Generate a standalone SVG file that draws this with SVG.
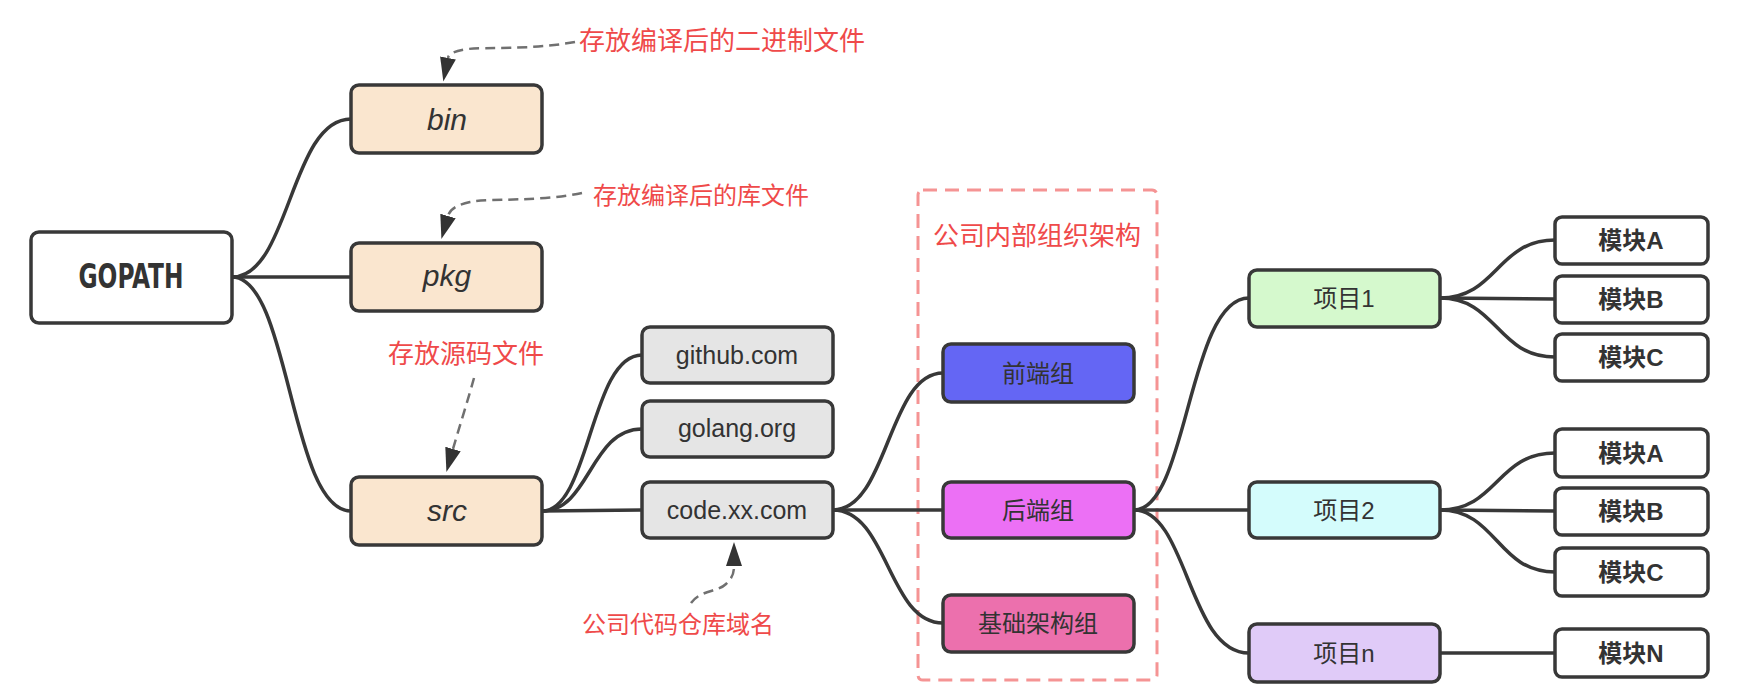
<svg xmlns="http://www.w3.org/2000/svg" width="1741" height="694" viewBox="0 0 1741 694">
<style>
.node rect{stroke:#383838;stroke-width:3.5}
.t{font-family:"Liberation Sans","Noto Sans CJK SC",sans-serif;font-size:24px;fill:#333;text-anchor:middle}
.lat{font-size:25px}
.it{font-style:italic;font-size:30px}
.mod{font-weight:bold}
.note{font-family:"Noto Sans CJK SC","Liberation Sans",sans-serif;fill:#ef4a4a}
.conn path{fill:none;stroke:#383838;stroke-width:3.5}
.dash{fill:none;stroke:#707070;stroke-width:2.5;stroke-dasharray:10 6}
</style>
<defs>
<marker id="ah" markerUnits="userSpaceOnUse" markerWidth="26" markerHeight="18" refX="0" refY="8" orient="auto">
<path d="M0,0 L24,8 L0,16 z" fill="#333"/>
</marker>
</defs>
<rect width="1741" height="694" fill="#fff"/>

<rect id="org-frame" x="918" y="190" width="239" height="490" rx="5" fill="none" stroke="#f59494" stroke-width="3" stroke-dasharray="14 8"/>

<g id="connectors" class="conn">
<path d="M232,277 C290,277 290,119 351,119"/>
<path d="M232,277 L351,277"/>
<path d="M232,277 C290,277 290,511 351,511"/>
<path d="M542,511 C590,511 590,355 642,355"/>
<path d="M542,511 C590,511 590,429 642,429"/>
<path d="M542,511 L642,510"/>
<path d="M833,510 C888,510 888,373 943,373"/>
<path d="M833,510 L943,510"/>
<path d="M833,510 C888,510 888,623 943,623"/>
<path d="M1134,510 C1188,510 1188,298 1249,298"/>
<path d="M1134,510 L1249,510"/>
<path d="M1134,510 C1188,510 1188,653 1249,653"/>
<path d="M1440,298 C1497,298 1497,240 1555,240"/>
<path d="M1440,298 L1555,299"/>
<path d="M1440,298 C1497,298 1497,357 1555,357"/>
<path d="M1440,510 C1497,510 1497,453 1555,453"/>
<path d="M1440,510 L1555,511"/>
<path d="M1440,510 C1497,510 1497,572 1555,572"/>
<path d="M1440,653 L1555,653"/>
</g>

<g id="annotations">
<path class="dash" d="M575,42 C530,50 485,47 468,49 C455,51 449,53 448,58" marker-end="url(#ah)"/>
<path class="dash" d="M582,193 C540,202 490,198 470,202 C457,205 450,209 448,216" marker-end="url(#ah)"/>
<path class="dash" d="M474,378 C468,400 459,428 453,449" marker-end="url(#ah)"/>
<path class="dash" d="M691,603 C700,590 718,592 726,584 C732,578 734,574 734,566" marker-end="url(#ah)"/>
<text class="note" x="579" y="50" font-size="26">存放编译后的二进制文件</text>
<text class="note" x="593" y="204" font-size="24">存放编译后的库文件</text>
<text class="note" x="388" y="363" font-size="26">存放源码文件</text>
<text class="note" x="933" y="245" font-size="26">公司内部组织架构</text>
<text class="note" x="582" y="633" font-size="24">公司代码仓库域名</text>
</g>

<g id="gopath" class="node"><rect x="31" y="232" width="201" height="91" rx="8" fill="#fff"/><text x="131" y="288" font-family="'DejaVu Sans Condensed','Liberation Sans',sans-serif" font-weight="bold" font-size="34" fill="#333" text-anchor="middle" textLength="105" lengthAdjust="spacingAndGlyphs">GOPATH</text></g>
<g id="bin" class="node"><rect x="351" y="85" width="191" height="68" rx="8" fill="#fae6cf"/><text class="t it" x="447" y="130">bin</text></g>
<g id="pkg" class="node"><rect x="351" y="243" width="191" height="68" rx="8" fill="#fae6cf"/><text class="t it" x="447" y="286">pkg</text></g>
<g id="src" class="node"><rect x="351" y="477" width="191" height="68" rx="8" fill="#fae6cf"/><text class="t it" x="447" y="521">src</text></g>
<g id="github" class="node"><rect x="642" y="327" width="191" height="56" rx="8" fill="#e5e5e5"/><text class="t lat" x="737" y="364">github.com</text></g>
<g id="golang" class="node"><rect x="642" y="401" width="191" height="56" rx="8" fill="#e5e5e5"/><text class="t lat" x="737" y="437">golang.org</text></g>
<g id="codexx" class="node"><rect x="642" y="482" width="191" height="56" rx="8" fill="#e5e5e5"/><text class="t lat" x="737" y="519">code.xx.com</text></g>
<g id="frontend" class="node"><rect x="943" y="344" width="191" height="58" rx="8" fill="#6466f4"/><text class="t" x="1038" y="382">前端组</text></g>
<g id="backend" class="node"><rect x="943" y="482" width="191" height="56" rx="8" fill="#ec70f5"/><text class="t" x="1038" y="519">后端组</text></g>
<g id="infra" class="node"><rect x="943" y="595" width="191" height="57" rx="8" fill="#ec70ad"/><text class="t" x="1038" y="632">基础架构组</text></g>
<g id="proj1" class="node"><rect x="1249" y="270" width="191" height="57" rx="8" fill="#d5f9cd"/><text class="t" x="1344" y="307">项目1</text></g>
<g id="proj2" class="node"><rect x="1249" y="482" width="191" height="56" rx="8" fill="#d4fcfc"/><text class="t" x="1344" y="519">项目2</text></g>
<g id="projn" class="node"><rect x="1249" y="624" width="191" height="58" rx="8" fill="#e0cbf8"/><text class="t" x="1344" y="662">项目n</text></g>
<g id="p1-modA" class="node"><rect x="1555" y="217" width="153" height="47" rx="7" fill="#fff"/><text class="t mod" x="1631" y="249">模块A</text></g>
<g id="p1-modB" class="node"><rect x="1555" y="276" width="153" height="47" rx="7" fill="#fff"/><text class="t mod" x="1631" y="308">模块B</text></g>
<g id="p1-modC" class="node"><rect x="1555" y="334" width="153" height="47" rx="7" fill="#fff"/><text class="t mod" x="1631" y="366">模块C</text></g>
<g id="p2-modA" class="node"><rect x="1555" y="429" width="153" height="48" rx="7" fill="#fff"/><text class="t mod" x="1631" y="462">模块A</text></g>
<g id="p2-modB" class="node"><rect x="1555" y="488" width="153" height="47" rx="7" fill="#fff"/><text class="t mod" x="1631" y="520">模块B</text></g>
<g id="p2-modC" class="node"><rect x="1555" y="548" width="153" height="48" rx="7" fill="#fff"/><text class="t mod" x="1631" y="581">模块C</text></g>
<g id="pn-modN" class="node"><rect x="1555" y="629" width="153" height="48" rx="7" fill="#fff"/><text class="t mod" x="1631" y="662">模块N</text></g>
</svg>
